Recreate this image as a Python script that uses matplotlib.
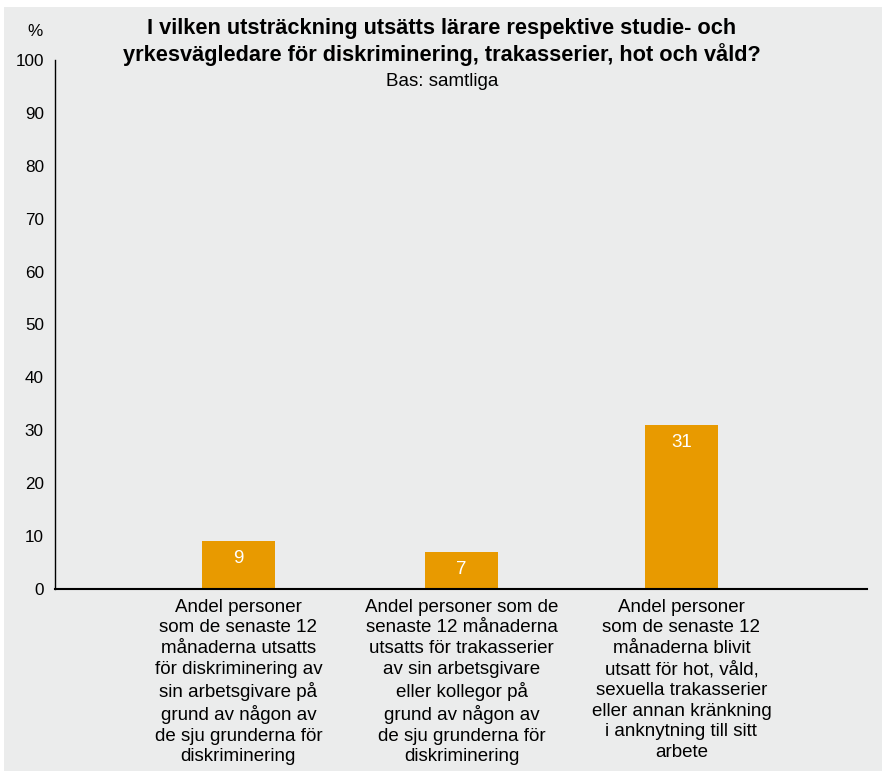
import matplotlib
matplotlib.use('agg')

import matplotlib.pyplot as plt
import matplotlib.patches as patches
import numpy as np

plt.rcParams['font.family'] = ['Liberation Sans', 'DejaVu Sans']

categories = [
    'Andel personer\nsom de senaste 12\nmånaderna utsatts\nför diskriminering av\nsin arbetsgivare på\ngrund av någon av\nde sju grunderna för\ndiskriminering',
    'Andel personer som de\nsenaste 12 månaderna\nutsatts för trakasserier\nav sin arbetsgivare\neller kollegor på\ngrund av någon av\nde sju grunderna för\ndiskriminering',
    'Andel personer\nsom de senaste 12\nmånaderna blivit\nutsatt för hot, våld,\nsexuella trakasserier\neller annan kränkning\ni anknytning till sitt\narbete',
]
values = [9, 7, 31]
yticks = [0, 10, 20, 30, 40, 50, 60, 70, 80, 90, 100]

BG = '#ebecec'
BAR = '#e89a00'
FS = 13.5


def main():
    fig = plt.figure(figsize=(8.82, 7.71), dpi=100, facecolor='white')

    # grey panel behind everything
    fig.patches.append(patches.Rectangle((4 / 882, 0), 1, 1 - 7 / 771,
                                         transform=fig.transFigure,
                                         facecolor=BG, edgecolor='none', zorder=-5))

    ax = fig.add_axes([55 / 882, 1 - 589 / 771, (867 - 55) / 882, (589 - 60) / 771])
    ax.set_facecolor(BG)
    ax.set_zorder(2)

    x = np.array([0, 1.01, 2.005])
    ax.bar(x, values, width=0.33, color=BAR, edgecolor='none', zorder=2)
    for xi, v in zip(x, values):
        ax.text(xi, v - 3.3, str(v), ha='center', va='center', color='white',
                fontsize=FS)

    ax.set_xlim(-0.83, 2.845)
    ax.set_ylim(0, 100)
    ax.set_yticks(yticks)
    ax.set_xticks(x)
    ax.set_xticklabels(categories, fontsize=FS, linespacing=1.28)
    ax.tick_params('x', length=0, pad=7)
    ax.tick_params('y', length=0, pad=8, labelsize=12.3)

    for s in ['top', 'right']:
        ax.spines[s].set_visible(False)
    ax.spines['bottom'].set_linewidth(1.5)
    ax.spines['left'].set_linewidth(1.0)

    fig.text(35 / 882, 1 - 31 / 771, '%', ha='center', va='center', fontsize=12.3)
    fig.text(442 / 882, 1 - 42 / 771,
             'I vilken utsträckning utsätts lärare respektive studie- och\n'
             'yrkesvägledare för diskriminering, trakasserier, hot och våld?',
             ha='center', va='center', fontsize=15.7, fontweight='bold',
             linespacing=1.25)
    fig.text(442 / 882, 1 - 81 / 771, 'Bas: samtliga', ha='center', va='center',
             fontsize=FS)

    fig.savefig('out.png', dpi=100, facecolor=fig.get_facecolor())


if __name__ == "__main__":
    main()
